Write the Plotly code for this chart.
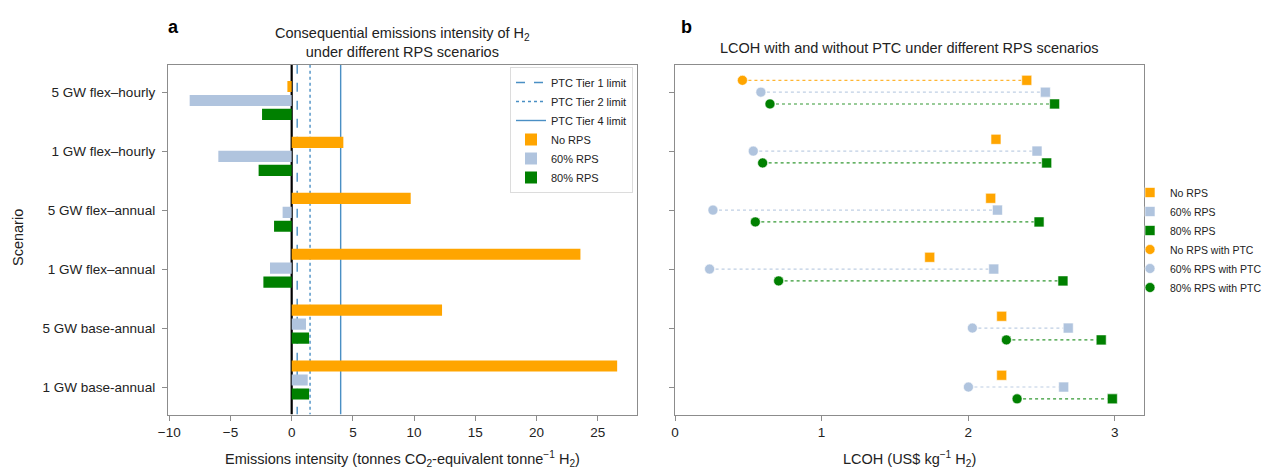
import plotly.graph_objects as go

# ---------------- data ----------------
scenarios = ["5 GW flex–hourly", "1 GW flex–hourly", "5 GW flex–annual",
             "1 GW flex–annual", "5 GW base-annual", "1 GW base-annual"]

# Panel a: consequential emissions intensity (t CO2e / t H2)
em_no_rps = [-0.35, 4.22, 9.72, 23.58, 12.28, 26.58]
em_60_rps = [-8.33, -5.99, -0.74, -1.77, 1.17, 1.31]
em_80_rps = [-2.42, -2.70, -1.44, -2.31, 1.42, 1.42]

ptc_names = ["PTC Tier 1 limit", "PTC Tier 2 limit", "PTC Tier 4 limit"]
ptc_limits = [0.45, 1.5, 4.0]
ptc_dash = ["dash", "dot", "solid"]

# Panel b: LCOH (US$/kg H2)
lcoh_no_rps = [2.40, 2.19, 2.154, 1.738, 2.229, 2.229]
lcoh_60_rps = [2.527, 2.47, 2.20, 2.175, 2.683, 2.652]
lcoh_80_rps = [2.59, 2.536, 2.484, 2.647, 2.908, 2.984]
lcoh_no_rps_ptc = [0.46, None, None, None, None, None]
lcoh_60_rps_ptc = [0.586, 0.534, 0.259, 0.236, 2.029, 2.002]
lcoh_80_rps_ptc = [0.648, 0.598, 0.548, 0.707, 2.261, 2.334]

x_ticks_a = [-10, -5, 0, 5, 10, 15, 20, 25]
x_ticks_b = [0, 1, 2, 3]

# ---------------- style ----------------
ORANGE = "#FFA500"
LBLUE = "#B0C4DE"
GREEN = "#008000"
PTC_COLOR = "#4a8fc4"
FRAME = "#8c8c8c"
FONT = "Liberation Sans, Arial, sans-serif"
W, H = 1262, 470

def px_x(p):
    return p / W

def px_y(p):
    return (H - p) / H

dom_a = [px_x(168), px_x(637)]
dom_b = [px_x(675), px_x(1144)]
dom_y = [px_y(414.5), px_y(64.7)]

idx = list(range(len(scenarios)))
fig = go.Figure()

# ---- panel a bars (on overlay axis y3) ----
bar_series = [("No RPS", em_no_rps, ORANGE, -0.25),
              ("60% RPS", em_60_rps, LBLUE, 0.0),
              ("80% RPS", em_80_rps, GREEN, 0.25)]
for k, (name, vals, col, off) in enumerate(bar_series):
    fig.add_trace(go.Bar(
        x=vals, y=[i + off for i in idx], orientation="h", width=0.2,
        marker=dict(color=col, line=dict(width=0)), name=name,
        xaxis="x", yaxis="y3", legend="legend", legendrank=10 + k,
        hoverinfo="x+name"))

# zero line
fig.add_trace(go.Scatter(x=[0, 0], y=[-0.465, 5.465], mode="lines",
                         line=dict(color="black", width=2.2),
                         showlegend=False, xaxis="x", yaxis="y", hoverinfo="skip"))

# PTC limit lines
for k, (name, v, d) in enumerate(zip(ptc_names, ptc_limits, ptc_dash)):
    fig.add_trace(go.Scatter(x=[v, v], y=[-0.465, 5.465], mode="lines",
                             line=dict(color=PTC_COLOR, width=1.4, dash=d),
                             name=name, xaxis="x", yaxis="y",
                             legend="legend", legendrank=k + 1))

# ---- panel b ----
pairs = [("No RPS", lcoh_no_rps, lcoh_no_rps_ptc, ORANGE, -0.2, 0.8),
         ("60% RPS", lcoh_60_rps, lcoh_60_rps_ptc, LBLUE, 0.0, 0.8),
         ("80% RPS", lcoh_80_rps, lcoh_80_rps_ptc, GREEN, 0.2, 0.8)]
for name, sq, ci, col, off, op in pairs:
    xs, ys = [], []
    for i, (a, b) in enumerate(zip(ci, sq)):
        if a is None or b is None:
            continue
        xs += [a, b, None]
        ys += [i + off, i + off, None]
    fig.add_trace(go.Scatter(x=xs, y=ys, mode="lines",
                             line=dict(color=col, width=1.1, dash="dot"),
                             opacity=op, showlegend=False,
                             xaxis="x2", yaxis="y2", hoverinfo="skip"))

for k, (name, sq, ci, col, off, op) in enumerate(pairs):
    fig.add_trace(go.Scatter(x=sq, y=[i + off for i in idx], mode="markers",
                             marker=dict(symbol="square", size=10, color=col,
                                         line=dict(color="white", width=0.6)),
                             name=name, xaxis="x2", yaxis="y2",
                             legend="legend2", legendrank=k + 1))
for k, (name, sq, ci, col, off, op) in enumerate(pairs):
    fig.add_trace(go.Scatter(x=ci, y=[i + off for i in idx], mode="markers",
                             marker=dict(symbol="circle", size=10, color=col,
                                         line=dict(color="white", width=0.6)),
                             name=name + " with PTC", xaxis="x2", yaxis="y2",
                             legend="legend2", legendrank=k + 4))

axis_common = dict(showline=True, linecolor=FRAME, linewidth=1.3, mirror=True,
                   ticks="outside", ticklen=5, tickcolor=FRAME, showgrid=False,
                   zeroline=False, automargin=False,
                   tickfont=dict(size=13.5, color="#222"))

fig.update_layout(
    width=W, height=H, margin=dict(l=0, r=0, t=0, b=0, autoexpand=False),
    paper_bgcolor="white", plot_bgcolor="white",
    font=dict(family=FONT, color="#222"),
    barmode="overlay",
    xaxis=dict(domain=dom_a, range=[-10.1, 28.2], tickvals=x_ticks_a,
               anchor="y", **axis_common),
    yaxis=dict(domain=dom_y, range=[5.465, -0.465], tickvals=idx,
               ticktext=scenarios, anchor="x", ticklabelstandoff=4, **axis_common),
    yaxis3=dict(range=[5.617, -0.640], overlaying="y", anchor="x",
                visible=False, showgrid=False, zeroline=False, automargin=False),
    xaxis2=dict(domain=dom_b, range=[0, 3.2], tickvals=x_ticks_b,
                anchor="y2", **axis_common),
    yaxis2=dict(domain=dom_y, range=[5.465, -0.465], tickvals=idx,
                showticklabels=False, anchor="x2", **axis_common),
    legend=dict(x=px_x(633), y=px_y(67), xanchor="right", yanchor="top",
                bgcolor="rgba(255,255,255,0.8)", bordercolor="#dcdcdc",
                borderwidth=1, font=dict(size=11, color="#222"),
                itemwidth=30, tracegroupgap=0),
    legend2=dict(x=px_x(1130), y=px_y(240), xanchor="left", yanchor="middle",
                 bgcolor="rgba(0,0,0,0)", font=dict(size=10.5, color="#222"),
                 itemwidth=30, tracegroupgap=0),
    showlegend=True,
)

annotations = [
    dict(text="<b>a</b>", x=px_x(173), y=px_y(27), showarrow=False, font=dict(size=18, color="black")),
    dict(text="<b>b</b>", x=px_x(686), y=px_y(27), showarrow=False, font=dict(size=18, color="black")),
    dict(text="Consequential emissions intensity of H<sub>2</sub><br>under different RPS scenarios",
         x=px_x(402.5), y=px_y(42), showarrow=False, font=dict(size=14.5, color="#222")),
    dict(text="LCOH with and without PTC under different RPS scenarios",
         x=px_x(909.5), y=px_y(48), showarrow=False, font=dict(size=14.5, color="#222")),
    dict(text="Emissions intensity (tonnes CO<sub>2</sub>-equivalent tonne<sup>−1</sup> H<sub>2</sub>)",
         x=px_x(402.5), y=px_y(459), showarrow=False, font=dict(size=14.5, color="#222")),
    dict(text="LCOH (US$ kg<sup>−1</sup> H<sub>2</sub>)",
         x=px_x(909.5), y=px_y(459), showarrow=False, font=dict(size=14.5, color="#222")),
    dict(text="Scenario", x=px_x(18), y=px_y(238), textangle=-90, showarrow=False,
         font=dict(size=14.5, color="#222")),
]
for a in annotations:
    a.update(xref="paper", yref="paper", xanchor="center", yanchor="middle")
fig.update_layout(annotations=annotations)

fig.write_html("out.html")
